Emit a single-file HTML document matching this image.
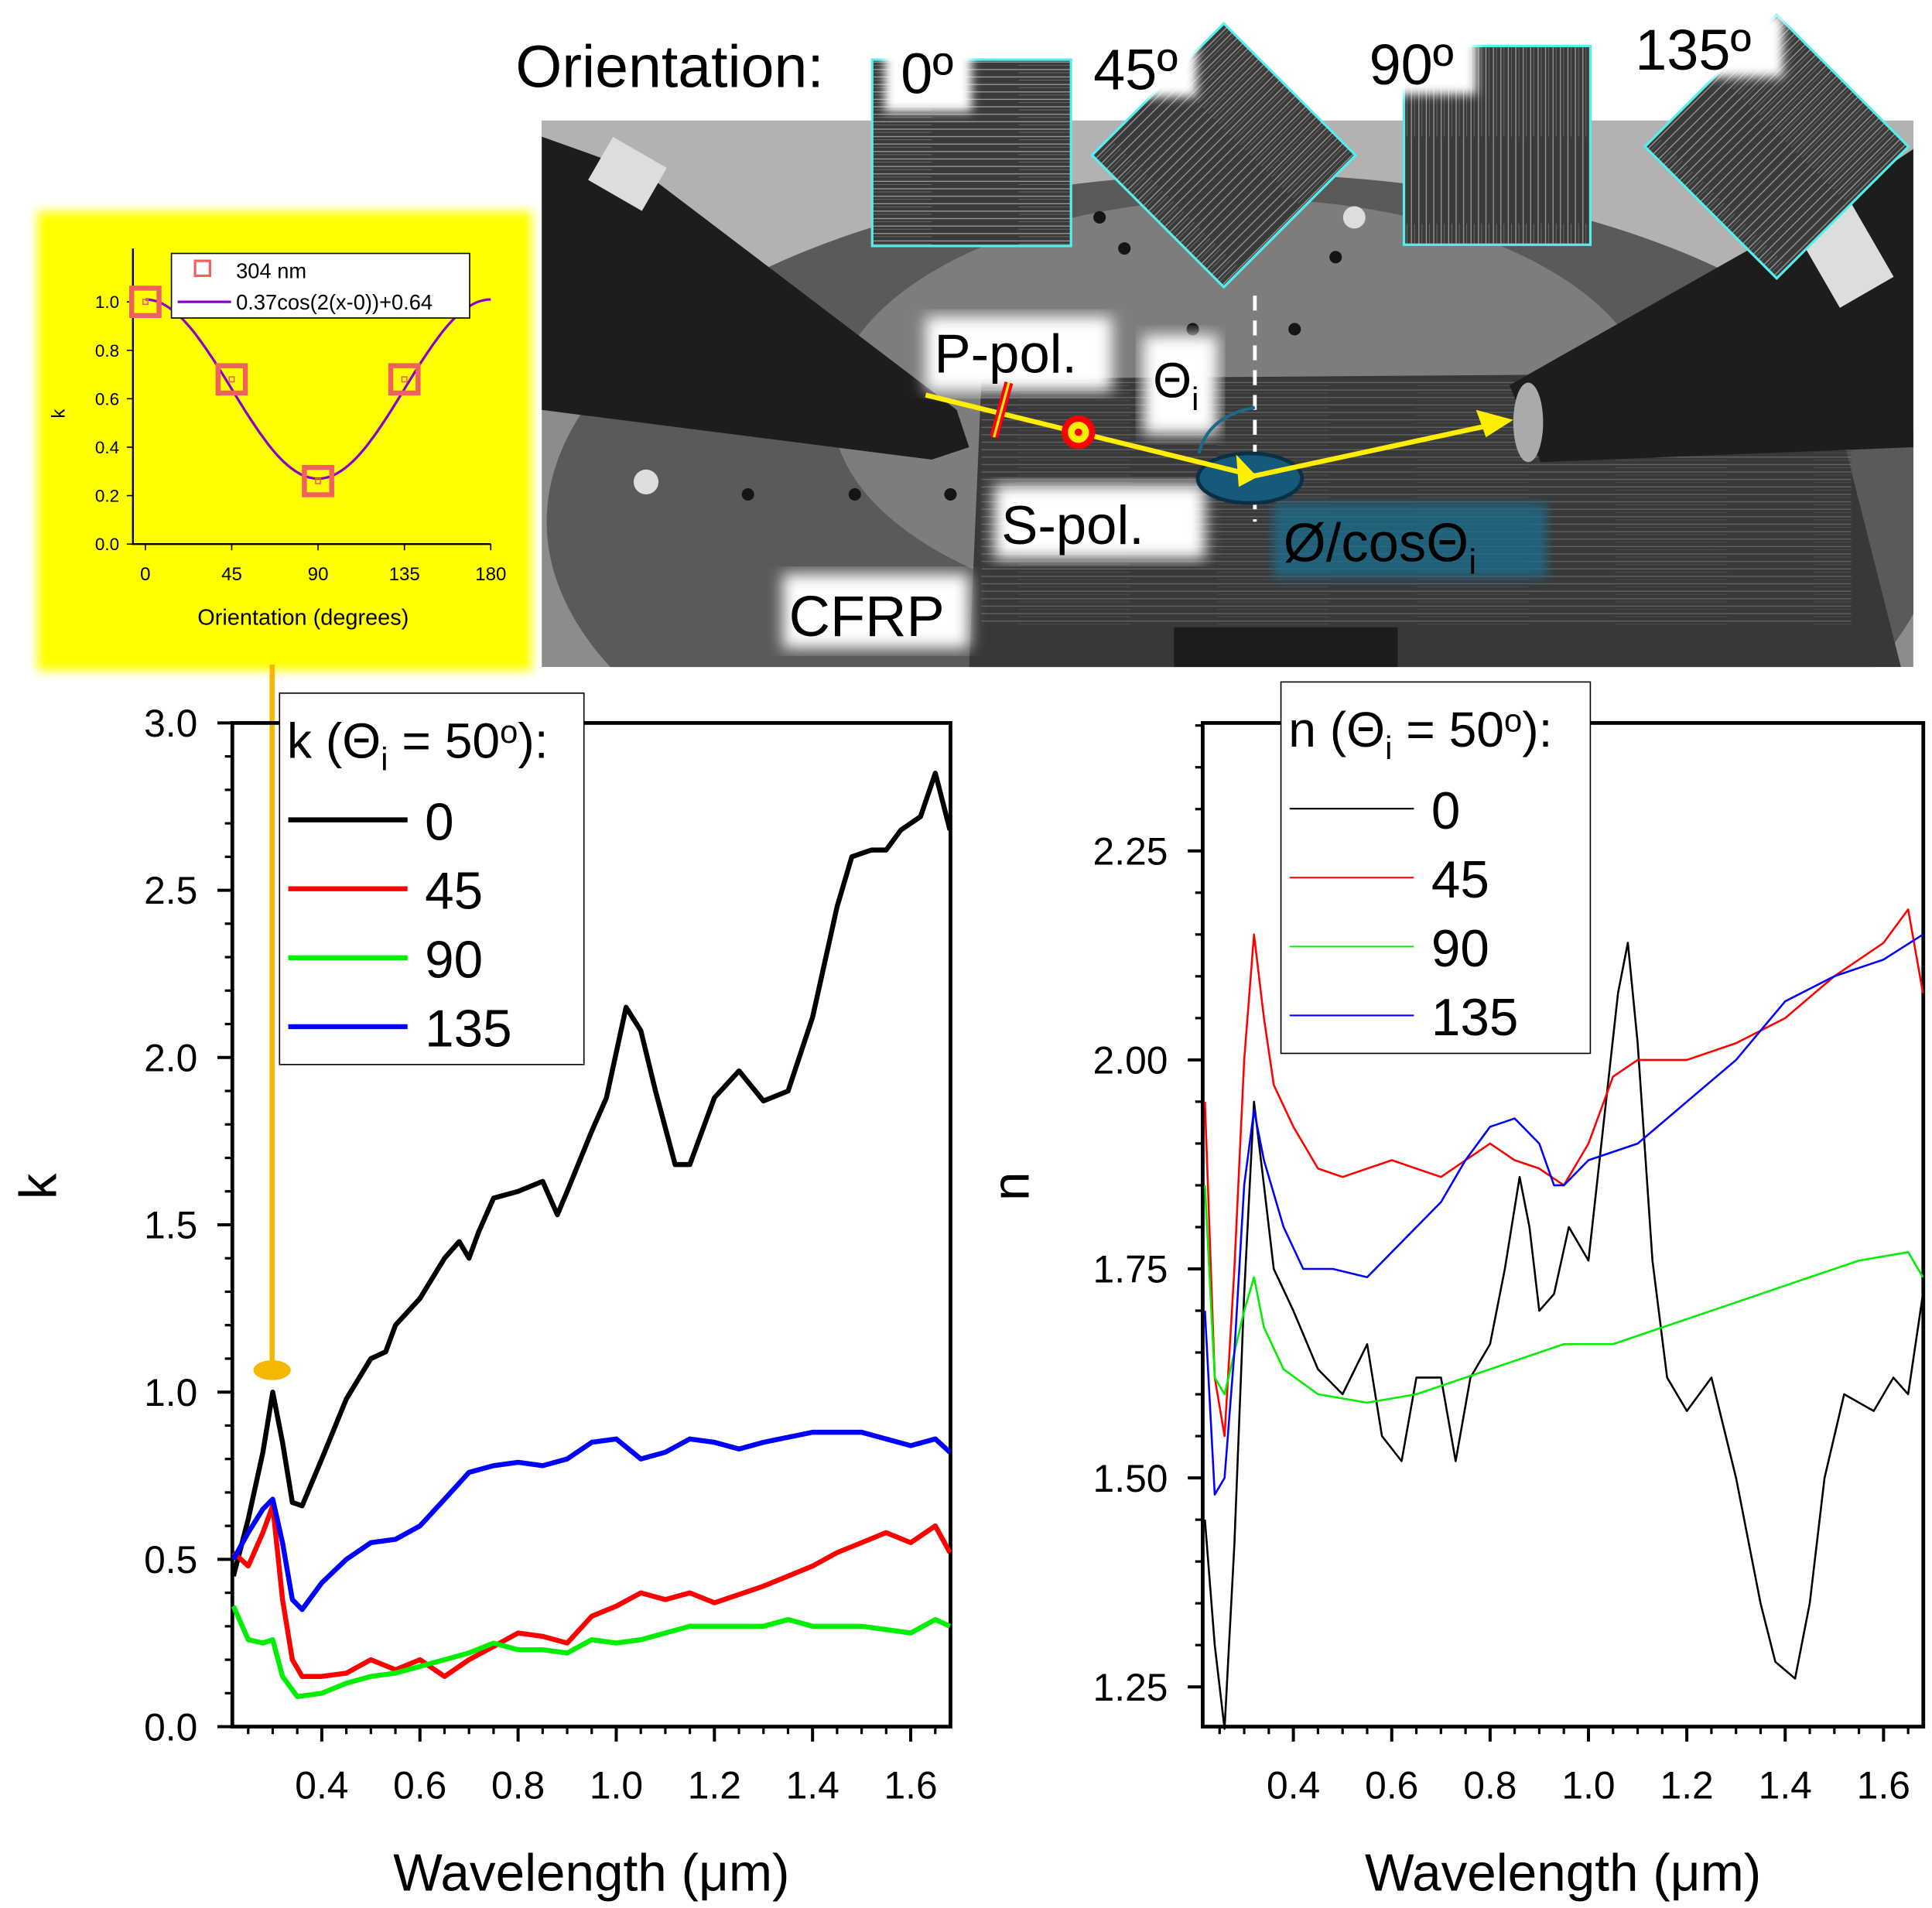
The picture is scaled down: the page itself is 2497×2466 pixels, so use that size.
<!DOCTYPE html>
<html><head><meta charset="utf-8"><style>
html,body{margin:0;padding:0;background:#fff;}
svg{display:block;font-family:"Liberation Sans",Arial,sans-serif;}
</style></head><body>
<svg id="fig" width="2497" height="2466" viewBox="0 0 1555 1536" preserveAspectRatio="none" xmlns="http://www.w3.org/2000/svg">
<defs>
<filter id="blur" x="-10%" y="-10%" width="120%" height="120%"><feGaussianBlur stdDeviation="6"/></filter>
<filter id="blur2" x="-20%" y="-20%" width="140%" height="140%"><feGaussianBlur stdDeviation="4"/></filter>
<clipPath id="photoClip"><rect x="436" y="97" width="1104" height="440"/></clipPath>
<pattern id="fib" width="160" height="6" patternUnits="userSpaceOnUse"><rect width="160" height="6" fill="#3a3a3a"/><line x1="0" y1="2" x2="160" y2="2" stroke="#9a9a9a" stroke-width="0.8"/><line x1="20" y1="4.5" x2="110" y2="4.5" stroke="#6a6a6a" stroke-width="0.6"/></pattern>
<pattern id="fibv" width="6" height="160" patternUnits="userSpaceOnUse"><rect width="6" height="160" fill="#3a3a3a"/><line x1="2" y1="0" x2="2" y2="160" stroke="#9a9a9a" stroke-width="0.8"/><line x1="4.5" y1="20" x2="4.5" y2="110" stroke="#6a6a6a" stroke-width="0.6"/></pattern>
</defs>

<!-- Photo -->
<g clip-path="url(#photoClip)">
<rect x="436" y="97" width="1104" height="440" fill="#8c8c8c"/>
<rect x="436" y="97" width="1104" height="120" fill="#b2b2b2"/>
<ellipse cx="1000" cy="420" rx="560" ry="280" fill="#5a5a5a"/>
<ellipse cx="1000" cy="330" rx="330" ry="170" fill="#7d7d7d"/>
<polygon points="790,305 1470,300 1530,537 780,537" fill="#383838"/>
<rect x="790" y="305" width="700" height="200" fill="url(#fib)" opacity="0.45"/>
<rect x="945" y="505" width="180" height="32" fill="#1c1c1c"/>
<polygon points="436,110 520,140 770,330 780,360 750,370 436,330" fill="#1d1d1d"/>
<polygon points="1540,120 1540,360 1240,372 1215,310 1480,160" fill="#1d1d1d"/>
<ellipse cx="1230" cy="340" rx="12" ry="32" fill="#aaa"/>
<rect x="480" y="120" width="50" height="40" fill="#ddd" transform="rotate(30 505 140)"/>
<rect x="1460" y="170" width="50" height="70" fill="#ddd" transform="rotate(-30 1485 205)"/>
<circle cx="520" cy="388" r="10" fill="#ddd"/><circle cx="1090" cy="175" r="9" fill="#ddd"/>
<g fill="#151515"><circle cx="905" cy="200" r="5"/><circle cx="1075" cy="207" r="5"/><circle cx="960" cy="265" r="5"/><circle cx="1042" cy="265" r="5"/><circle cx="602" cy="398" r="5"/><circle cx="688" cy="398" r="5"/><circle cx="765" cy="398" r="5"/><circle cx="885" cy="175" r="5"/></g>
</g>

<!-- orientation tiles -->
<text x="415" y="70" font-size="48" fill="#000">Orientation:</text>
<rect x="702" y="48" width="160" height="150" fill="url(#fib)" stroke="#5ee" stroke-width="2"/>
<rect x="712" y="40" width="70" height="50" fill="#fff" filter="url(#blur2)"/>
<text x="725" y="75" font-size="46">0º</text>
<rect x="910" y="50" width="150" height="150" fill="url(#fibv)" stroke="#5ee" stroke-width="2" transform="rotate(45 985 125)"/>
<rect x="873" y="28" width="90" height="50" fill="#fff" filter="url(#blur2)"/>
<text x="880" y="72" font-size="46">45º</text>
<rect x="1130" y="37" width="150" height="160" fill="url(#fibv)" stroke="#5ee" stroke-width="2"/>
<rect x="1098" y="26" width="90" height="50" fill="#fff" filter="url(#blur2)"/>
<text x="1102" y="68" font-size="46">90º</text>
<rect x="1355" y="43" width="150" height="150" fill="url(#fibv)" stroke="#5ee" stroke-width="2" transform="rotate(45 1430 118)"/>
<rect x="1310" y="12" width="125" height="50" fill="#fff" filter="url(#blur2)"/>
<text x="1316" y="56" font-size="46">135º</text>

<!-- photo annotations -->
<rect x="745" y="255" width="150" height="60" fill="#fff" filter="url(#blur)"/>
<text x="752" y="300" font-size="44">P-pol.</text>
<rect x="920" y="270" width="60" height="80" fill="#fff" filter="url(#blur)"/>
<text x="928" y="320" font-size="40">Θ<tspan font-size="26" dy="10">i</tspan></text>
<rect x="800" y="390" width="170" height="60" fill="#fff" filter="url(#blur)"/>
<text x="806" y="438" font-size="44">S-pol.</text>
<rect x="1025" y="405" width="220" height="60" fill="#1a6a8a" opacity="0.8" filter="url(#blur2)"/>
<text x="1033" y="452" font-size="44">Ø/cosΘ<tspan font-size="28" dy="10">i</tspan></text>
<rect x="630" y="462" width="150" height="60" fill="#fff" filter="url(#blur)"/>
<text x="635" y="512" font-size="46">CFRP</text>
<line x1="1010" y1="238" x2="1010" y2="420" stroke="#fff" stroke-width="3" stroke-dasharray="12,8"/>
<path d="M965,365 Q972,335 1010,328" fill="none" stroke="#1a6a8a" stroke-width="2.5"/>
<ellipse cx="1006" cy="385" rx="42" ry="20" fill="#155a7a" stroke="#0b2f44" stroke-width="3"/>
<polyline points="745,318 1010,383 1210,340" fill="none" stroke="#ffee00" stroke-width="4"/>
<polygon points="1218,338 1188,330 1196,352" fill="#ffee00"/>
<polygon points="1012,384 995,366 997,392" fill="#ffee00"/>
<line x1="812" y1="308" x2="800" y2="352" stroke="#f00" stroke-width="7"/>
<line x1="812" y1="308" x2="800" y2="352" stroke="#ffee00" stroke-width="2"/>
<circle cx="868" cy="348" r="11" fill="#ffee00" stroke="#f00" stroke-width="5"/>
<circle cx="868" cy="348" r="3" fill="#f00"/>

<!-- Inset -->
<g>
<rect x="30" y="170" width="398" height="370" fill="#ffff00" filter="url(#blur2)"/>
<g id="inset"></g>
<line x1="219" y1="535" x2="219" y2="1100" stroke="#f5b800" stroke-width="4"/>
<ellipse cx="219" cy="1103" rx="15" ry="8" fill="#f5b800"/>
</g>

<g id="leftChart"></g>
<g id="rightChart"></g>
</svg>
<script>
// ---- Inset data ----
const insetAngles=[0,45,90,135];
const insetK=[1.0,0.68,0.26,0.68];
const insetXTicks=[0,45,90,135,180];
const insetYTicks=[0.0,0.2,0.4,0.6,0.8,1.0];
const fitAmp=0.37, fitOff=0.64;

// ---- Left chart (k) data ----
const kTicksY=[0.0,0.5,1.0,1.5,2.0,2.5,3.0];
const kTicksX=[0.4,0.6,0.8,1.0,1.2,1.4,1.6];
const wlK0=[0.22,0.25,0.28,0.30,0.32,0.34,0.36,0.40,0.45,0.50,0.53,0.55,0.60,0.65,0.68,0.70,0.72,0.75,0.80,0.85,0.88,0.90,0.95,0.98,1.02,1.05,1.08,1.12,1.15,1.20,1.25,1.30,1.35,1.40,1.45,1.48,1.52,1.55,1.58,1.62,1.65,1.68];
const k0=[0.45,0.62,0.82,1.0,0.85,0.67,0.66,0.80,0.98,1.10,1.12,1.20,1.28,1.40,1.45,1.40,1.48,1.58,1.60,1.63,1.53,1.60,1.78,1.88,2.15,2.08,1.90,1.68,1.68,1.88,1.96,1.87,1.90,2.12,2.45,2.60,2.62,2.62,2.68,2.72,2.85,2.68];
const wlK45=[0.22,0.25,0.28,0.30,0.32,0.34,0.36,0.40,0.45,0.50,0.55,0.60,0.65,0.70,0.75,0.80,0.85,0.90,0.95,1.00,1.05,1.10,1.15,1.20,1.30,1.35,1.40,1.45,1.50,1.55,1.60,1.65,1.68];
const k45=[0.52,0.48,0.58,0.66,0.38,0.20,0.15,0.15,0.16,0.20,0.17,0.20,0.15,0.20,0.24,0.28,0.27,0.25,0.33,0.36,0.40,0.38,0.40,0.37,0.42,0.45,0.48,0.52,0.55,0.58,0.55,0.60,0.52];
const wlK90=[0.22,0.25,0.28,0.30,0.32,0.35,0.40,0.45,0.50,0.55,0.60,0.65,0.70,0.75,0.80,0.85,0.90,0.95,1.00,1.05,1.10,1.15,1.20,1.30,1.35,1.40,1.50,1.60,1.65,1.68];
const k90=[0.36,0.26,0.25,0.26,0.15,0.09,0.10,0.13,0.15,0.16,0.18,0.20,0.22,0.25,0.23,0.23,0.22,0.26,0.25,0.26,0.28,0.30,0.30,0.30,0.32,0.30,0.30,0.28,0.32,0.30];
const wlK135=[0.22,0.25,0.28,0.30,0.32,0.34,0.36,0.40,0.45,0.50,0.55,0.60,0.65,0.70,0.75,0.80,0.85,0.90,0.95,1.00,1.05,1.10,1.15,1.20,1.25,1.30,1.40,1.50,1.55,1.60,1.65,1.68];
const k135=[0.50,0.58,0.65,0.68,0.55,0.38,0.35,0.43,0.50,0.55,0.56,0.60,0.68,0.76,0.78,0.79,0.78,0.80,0.85,0.86,0.80,0.82,0.86,0.85,0.83,0.85,0.88,0.88,0.86,0.84,0.86,0.82];

// ---- Right chart (n) data ----
const nTicksY=[1.25,1.50,1.75,2.00,2.25];
const nTicksX=[0.4,0.6,0.8,1.0,1.2,1.4,1.6];
const wlN0=[0.22,0.24,0.26,0.28,0.30,0.32,0.34,0.36,0.40,0.45,0.50,0.55,0.58,0.62,0.65,0.70,0.73,0.76,0.80,0.83,0.86,0.88,0.90,0.93,0.96,1.00,1.03,1.06,1.08,1.10,1.13,1.16,1.20,1.25,1.30,1.35,1.38,1.42,1.45,1.48,1.52,1.58,1.62,1.65,1.68];
const n0=[1.45,1.30,1.20,1.42,1.72,1.95,1.85,1.75,1.70,1.63,1.60,1.66,1.55,1.52,1.62,1.62,1.52,1.62,1.66,1.75,1.86,1.80,1.70,1.72,1.80,1.76,1.92,2.08,2.14,2.02,1.76,1.62,1.58,1.62,1.50,1.35,1.28,1.26,1.35,1.50,1.60,1.58,1.62,1.60,1.72];
const wlN45=[0.22,0.24,0.26,0.28,0.30,0.32,0.34,0.36,0.40,0.45,0.50,0.60,0.70,0.80,0.85,0.90,0.95,1.00,1.05,1.10,1.20,1.30,1.40,1.50,1.55,1.60,1.65,1.68];
const n45=[1.95,1.62,1.55,1.75,2.00,2.15,2.05,1.97,1.92,1.87,1.86,1.88,1.86,1.90,1.88,1.87,1.85,1.90,1.98,2.00,2.00,2.02,2.05,2.10,2.12,2.14,2.18,2.08];
const wlN90=[0.22,0.24,0.26,0.28,0.30,0.32,0.34,0.38,0.45,0.55,0.65,0.75,0.85,0.95,1.05,1.15,1.25,1.35,1.45,1.55,1.65,1.68];
const n90=[1.85,1.62,1.60,1.65,1.70,1.74,1.68,1.63,1.60,1.59,1.60,1.62,1.64,1.66,1.66,1.68,1.70,1.72,1.74,1.76,1.77,1.74];
const wlN135=[0.22,0.24,0.26,0.28,0.30,0.32,0.34,0.38,0.42,0.48,0.55,0.60,0.70,0.75,0.80,0.85,0.90,0.93,0.95,1.00,1.10,1.20,1.30,1.40,1.50,1.60,1.68];
const n135=[1.70,1.48,1.50,1.65,1.85,1.94,1.88,1.80,1.75,1.75,1.74,1.77,1.83,1.88,1.92,1.93,1.90,1.85,1.85,1.88,1.90,1.95,2.00,2.07,2.10,2.12,2.15];

const NS="http://www.w3.org/2000/svg";
function mk(parent,tag,attrs,text){const e=document.createElementNS(NS,tag);for(const k in attrs)e.setAttribute(k,attrs[k]);if(text!==undefined)e.textContent=text;parent.appendChild(e);return e;}

// Inset
(function(){
const g=document.getElementById('inset');
const x0=117,x1=395,y0=438,y1=243;
const sx=v=>x0+(x1-x0)*v/180, sy=v=>y0-(y0-y1)*v;
const ax=mk(g,'path',{d:`M107,200 L107,${y0} L395,${y0}`,fill:'none',stroke:'#000','stroke-width':1.5});


insetYTicks.forEach(v=>{mk(g,'line',{x1:102,x2:107,y1:sy(v),y2:sy(v),stroke:'#000'});
const t=mk(g,'text',{x:96,y:sy(v)+5,'font-size':14,'text-anchor':'end'},v.toFixed(1));

});
insetXTicks.forEach(v=>{mk(g,'line',{x1:sx(v),x2:sx(v),y1:y0,y2:y0+5,stroke:'#000'});
const t=mk(g,'text',{x:sx(v),y:y0+29,'font-size':15,'text-anchor':'middle'},String(v));

});
const yl=mk(g,'text',{x:52,y:333,'font-size':15,transform:'rotate(-90 52 333)','text-anchor':'middle'},'k');


const xl=mk(g,'text',{x:244,y:503,'font-size':18,'text-anchor':'middle'},'Orientation (degrees)');


let d='';for(let a=0;a<=180;a+=2){const v=fitAmp*Math.cos(2*a*Math.PI/180)+fitOff;d+=(a?'L':'M')+sx(a).toFixed(1)+','+sy(v).toFixed(1);}
const fl=mk(g,'path',{d:d,fill:'none',stroke:'#8a00c8','stroke-width':2});


insetAngles.forEach((a,i)=>{const r=mk(g,'rect',{x:sx(a)-11,y:sy(insetK[i])-11,width:22,height:22,fill:'none',stroke:'#f06060','stroke-width':4});


mk(g,'rect',{x:sx(a)-2,y:sy(insetK[i])-2,width:4,height:4,fill:'none',stroke:'#f06060','stroke-width':1});});
const lg=mk(g,'rect',{x:138,y:204,width:240,height:52,fill:'#fff',stroke:'#000','stroke-width':1});


mk(g,'rect',{x:157,y:210,width:12,height:12,fill:'none',stroke:'#f06060','stroke-width':2});
mk(g,'text',{x:190,y:224,'font-size':17},'304 nm');
mk(g,'line',{x1:143,x2:186,y1:243,y2:243,stroke:'#8a00c8','stroke-width':2});
mk(g,'text',{x:190,y:249,'font-size':17},'0.37cos(2(x-0))+0.64');
})();

function chart(gid,o){
const g=document.getElementById(gid);
const sx=v=>o.px0+(v-o.xv0)*(o.px1-o.px0)/(o.xv1-o.xv0);
const sy=v=>o.py0-(v-o.yv0)*(o.py0-o.py1)/(o.yv1-o.yv0);
const fr=mk(g,'rect',{x:o.L,y:o.T,width:o.R-o.L,height:o.B-o.T,fill:'none',stroke:'#000','stroke-width':3});


for(let v=o.yMin;v<=o.yMax+1e-9;v+=o.yMinor){const y=sy(v);if(y<o.T-1||y>o.B+1)continue;mk(g,'line',{x1:o.L-6,x2:o.L,y1:y,y2:y,stroke:'#000','stroke-width':2});}
o.yt.forEach(v=>{const y=sy(v);mk(g,'line',{x1:o.L-12,x2:o.L,y1:y,y2:y,stroke:'#000','stroke-width':2.5});
const t=mk(g,'text',{x:o.L-28,y:y+11,'font-size':31,'text-anchor':'end'},v.toFixed(o.yDec));

});
for(let v=0.2;v<=1.7;v+=0.05){const x=sx(v);if(x<o.L||x>o.R)continue;mk(g,'line',{x1:x,x2:x,y1:o.B,y2:o.B+6,stroke:'#000','stroke-width':2});}
o.xt.forEach(v=>{const x=sx(v);mk(g,'line',{x1:x,x2:x,y1:o.B,y2:o.B+12,stroke:'#000','stroke-width':2.5});
const t=mk(g,'text',{x:x,y:o.B+58,'font-size':31,'text-anchor':'middle'},v.toFixed(1));

});
const xt=mk(g,'text',{x:(o.L+o.R)/2,y:1522,'font-size':42,'text-anchor':'middle'},'Wavelength (μm)');


const yt=mk(g,'text',{x:o.ylx,y:955,'font-size':42,'text-anchor':'middle',transform:`rotate(-90 ${o.ylx} 955)`},o.yl);


o.series.forEach(s=>{let d='';s.x.forEach((v,i)=>{d+=(i?'L':'M')+sx(v).toFixed(1)+','+sy(s.y[i]).toFixed(1);});
const p=mk(g,'path',{d:d,fill:'none',stroke:s.c,'stroke-width':o.sw,'stroke-linejoin':'round'});

});
const lb=mk(g,'rect',{x:o.lg.x,y:o.lg.y,width:o.lg.w,height:o.lg.h,fill:'#fff',stroke:'#000','stroke-width':1});


const tt=mk(g,'text',{x:o.lg.x+6,y:o.lg.y+52,'font-size':40});
tt.innerHTML=o.yl+' (Θ<tspan font-size="26" dy="10">i</tspan><tspan dy="-10"> = 50</tspan><tspan font-size="26" dy="-12">o</tspan><tspan dy="12">):</tspan>';


o.series.forEach((s,i)=>{const y=o.lg.y+102+i*55.5;
mk(g,'line',{x1:o.lg.x+7,x2:o.lg.x+o.lg.lw,y1:y,y2:y,stroke:s.c,'stroke-width':o.lsw});
const t=mk(g,'text',{x:o.lg.x+o.lg.lw+14,y:y+16,'font-size':42},s.n);

});
}

chart('leftChart',{name:'k-chart',L:187,R:765,T:582,B:1390,px0:259,px1:733,xv0:0.4,xv1:1.6,py0:1390,py1:582,yv0:0,yv1:3,
yMin:0,yMax:3,yMinor:0.1,yt:kTicksY,xt:kTicksX,yDec:1,yl:'k',ylx:45,sw:4,lsw:4,
lg:{x:225,y:558,w:245,h:299,lw:103},
series:[{n:'0',c:'#000',x:wlK0,y:k0},{n:'45',c:'#ff0000',x:wlK45,y:k45},{n:'90',c:'#00ee00',x:wlK90,y:k90},{n:'135',c:'#0000ff',x:wlK135,y:k135}]});

chart('rightChart',{name:'n-chart',L:968,R:1548,T:582,B:1390,px0:1041,px1:1516,xv0:0.4,xv1:1.6,py0:1358,py1:685,yv0:1.25,yv1:2.25,
yMin:1.20,yMax:2.40,yMinor:0.05,yt:nTicksY,xt:nTicksX,yDec:2,yl:'n',ylx:828,sw:1.6,lsw:1.3,
lg:{x:1031,y:549,w:249,h:299,lw:107},
series:[{n:'0',c:'#000',x:wlN0,y:n0},{n:'45',c:'#ff0000',x:wlN45,y:n45},{n:'90',c:'#00ee00',x:wlN90,y:n90},{n:'135',c:'#0000ff',x:wlN135,y:n135}]});
</script>
</body></html>
